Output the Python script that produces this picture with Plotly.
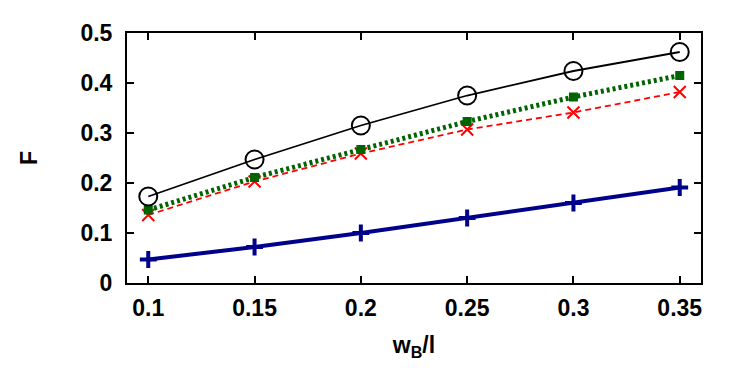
import plotly.graph_objects as go

# x values (w_B / l)
wb = [0.1, 0.15, 0.2, 0.25, 0.3, 0.35]

# F values for each series
f_circle = [0.173, 0.247, 0.315, 0.375, 0.424, 0.462]
f_square = [0.146, 0.211, 0.267, 0.323, 0.372, 0.415]
f_cross = [0.136, 0.203, 0.259, 0.307, 0.341, 0.382]
f_plus = [0.047, 0.072, 0.100, 0.130, 0.160, 0.191]

x_ticks = [0.1, 0.15, 0.2, 0.25, 0.3, 0.35]
y_ticks = [0, 0.1, 0.2, 0.3, 0.4, 0.5]

fig = go.Figure()

fig.add_trace(go.Scatter(
    x=wb, y=f_plus, mode='lines+markers',
    line=dict(color='#00008b', width=4),
    marker=dict(symbol='cross-thin', size=12, color='#00008b',
                line=dict(color='#00008b', width=4))))

fig.add_trace(go.Scatter(
    x=wb, y=f_cross, mode='lines+markers',
    line=dict(color='#ff0000', width=1.8, dash='6px,4px'),
    marker=dict(symbol='x-thin', size=12, color='#ff0000',
                line=dict(color='#ff0000', width=2))))

fig.add_trace(go.Scatter(
    x=wb, y=f_square, mode='lines+markers',
    line=dict(color='#006400', width=5, dash='3px,3px'),
    marker=dict(symbol='square', size=9, color='#006400')))

fig.add_trace(go.Scatter(
    x=wb, y=f_circle, mode='lines+markers',
    line=dict(color='black', width=1.8),
    marker=dict(symbol='circle-open', size=18, color='black',
                line=dict(color='black', width=2))))

fam = 'Liberation Sans, Arial, sans-serif'
tfont = dict(family=fam, size=23, color='black', weight='bold')

# page body has an 8px margin, so the figure is 8px smaller than the window
fig.update_layout(
    width=739, height=384,
    paper_bgcolor='white', plot_bgcolor='white',
    showlegend=False,
    margin=dict(l=119, r=46, t=23, b=109),
    font=dict(family=fam, size=23, color='black'),
    xaxis=dict(
        range=[0.09, 0.36], tickvals=x_ticks, ticktext=[str(v) for v in x_ticks],
        ticks='inside', ticklen=7, tickwidth=1.5, tickcolor='black',
        showline=True, linecolor='black', linewidth=2, mirror='ticks',
        showgrid=False, zeroline=False,
        tickfont=tfont, ticklabelstandoff=3,
        title=dict(text='<b>w<sub>B</sub>/l</b>', font=dict(size=23), standoff=17),
    ),
    yaxis=dict(
        range=[0, 0.5], tickvals=y_ticks, ticktext=[str(v) for v in y_ticks],
        ticks='inside', ticklen=7, tickwidth=1.5, tickcolor='black',
        showline=True, linecolor='black', linewidth=2, mirror='ticks',
        showgrid=False, zeroline=False,
        tickfont=tfont, ticklabelstandoff=8,
        title=dict(text='<b>F</b>', font=dict(size=23), standoff=36),
    ),
)

fig.write_html("out.html")
